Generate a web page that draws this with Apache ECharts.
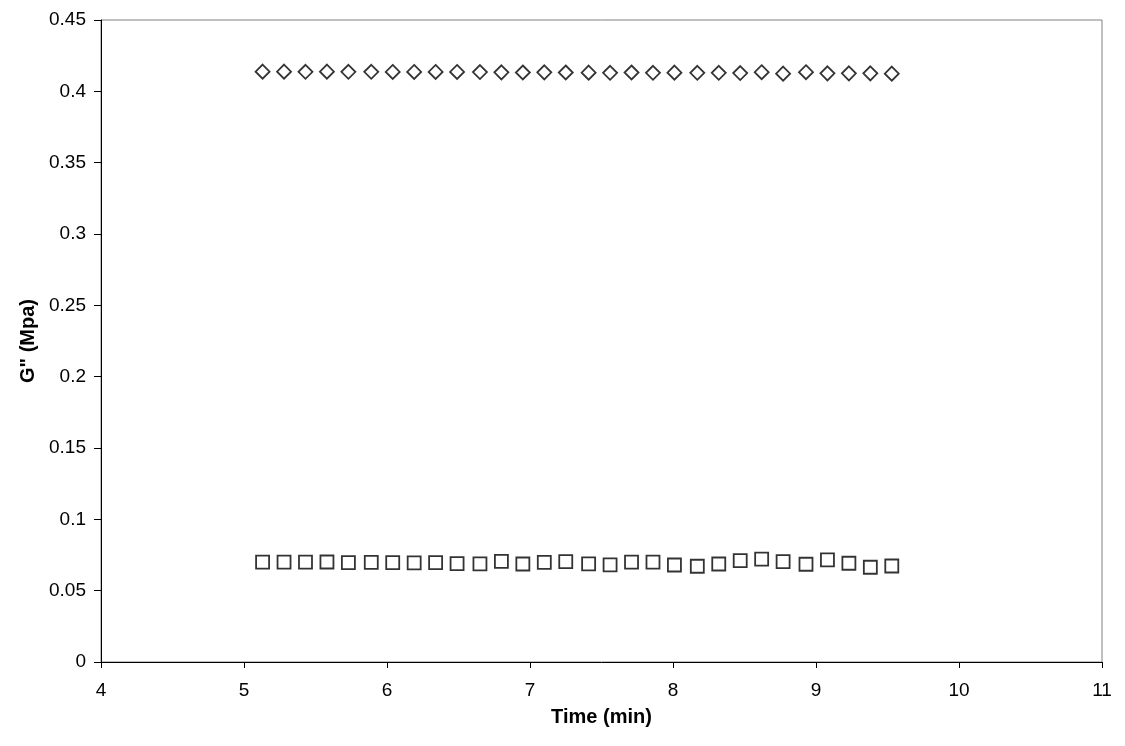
<!DOCTYPE html>
<html>
<head>
<meta charset="utf-8">
<script src="https://cdn.jsdelivr.net/npm/echarts@6/dist/echarts.min.js"></script>
<style>
  html, body { margin: 0; padding: 0; background: #fff; }
  #chart { width: 1125px; height: 746px; }
</style>
</head>
<body>
<div id="chart"></div>
<script>
// time stamps (min), same for both series
const timeMin = [5.13, 5.28, 5.43, 5.58, 5.73, 5.89, 6.04, 6.19, 6.34, 6.49,
  6.65, 6.80, 6.95, 7.10, 7.25, 7.41, 7.56, 7.71, 7.86, 8.01,
  8.17, 8.32, 8.47, 8.62, 8.77, 8.93, 9.08, 9.23, 9.38, 9.53];
// upper series (diamonds)
const diamondVals = [0.4138, 0.4138, 0.4137, 0.4138, 0.4137, 0.4137, 0.4136, 0.4136, 0.4136, 0.4136,
  0.4135, 0.4133, 0.4132, 0.4133, 0.4132, 0.4131, 0.4130, 0.4132, 0.4130, 0.4131,
  0.4130, 0.4130, 0.4128, 0.4134, 0.4124, 0.4134, 0.4126, 0.4126, 0.4126, 0.4124];
// lower series (squares)
const squareVals = [0.0700, 0.0700, 0.0700, 0.0701, 0.0697, 0.0699, 0.0697, 0.0695, 0.0697, 0.0690,
  0.0688, 0.0706, 0.0687, 0.0699, 0.0704, 0.0688, 0.0681, 0.0700, 0.0700, 0.0680,
  0.0671, 0.0687, 0.0711, 0.0721, 0.0704, 0.0685, 0.0716, 0.0692, 0.0664, 0.0673];

const chart = echarts.init(document.getElementById('chart'));
const font = 'Liberation Sans, Arial, sans-serif';

chart.setOption({
  animation: false,
  backgroundColor: '#fff',
  grid: {
    left: 101,
    right: 23,
    top: 20,
    bottom: 84,
    show: true,
    borderColor: '#808080',
    borderWidth: 1
  },
  xAxis: {
    type: 'value',
    min: 4,
    max: 11,
    interval: 1,
    name: 'Time (min)',
    nameLocation: 'middle',
    nameGap: 45,
    nameTextStyle: { fontFamily: font, fontSize: 20, fontWeight: 'bold', color: '#000' },
    axisLine: { lineStyle: { color: '#000', width: 1 } },
    axisTick: { show: true, length: 6, lineStyle: { color: '#000' } },
    axisLabel: { fontFamily: font, fontSize: 19, color: '#000', margin: 19 },
    splitLine: { show: false }
  },
  yAxis: {
    type: 'value',
    min: 0,
    max: 0.45,
    interval: 0.05,
    name: 'G" (Mpa)',
    nameLocation: 'middle',
    nameGap: 63,
    nameTextStyle: { fontFamily: font, fontSize: 20, fontWeight: 'bold', color: '#000' },
    axisLine: { show: true, lineStyle: { color: '#000', width: 1 } },
    axisTick: { show: true, length: 7, lineStyle: { color: '#000' } },
    axisLabel: { fontFamily: font, fontSize: 19, color: '#000', margin: 15 },
    splitLine: { show: false }
  },
  series: [
    {
      type: 'scatter',
      symbol: 'diamond',
      symbolSize: 14,
      data: timeMin.map((t, i) => [t, diamondVals[i]]),
      itemStyle: { color: '#fff', borderColor: '#000', borderWidth: 1.8 }
    },
    {
      type: 'scatter',
      symbol: 'rect',
      symbolSize: 13,
      data: timeMin.map((t, i) => [t, squareVals[i]]),
      itemStyle: { color: '#fff', borderColor: '#000', borderWidth: 1.8 }
    }
  ]
});
</script>
</body>
</html>
